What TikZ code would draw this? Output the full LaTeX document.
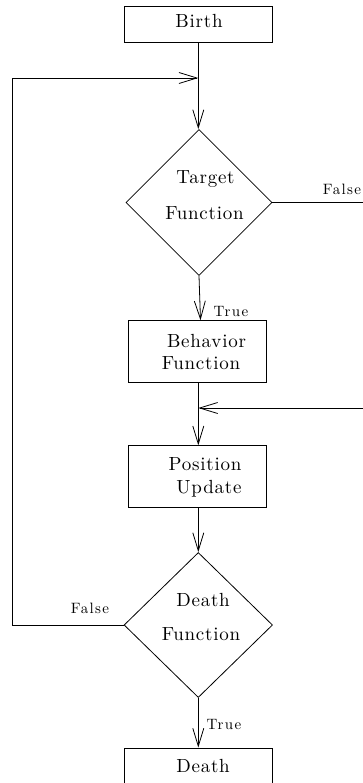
\documentclass[tikz,border=0pt]{standalone}
\usepackage{fontspec}
\usetikzlibrary{shapes.geometric,arrows.meta}
\newfontfamily\cmmain{lmroman10-regular.otf}[LetterSpace=4]
\newfontfamily\cmlbl{lmroman10-regular.otf}[LetterSpace=9]
\newcommand\mainfs{\cmmain\fontsize{19}{21}\selectfont}
\newcommand\lblfs{\cmlbl\fontsize{15}{17}\selectfont}
\tikzset{
  boxnode/.style={draw, line width=0.8pt, rectangle, inner sep=0pt},
  decnode/.style={draw, line width=0.8pt, diamond, inner sep=0pt, minimum width=146pt, minimum height=146pt},
  txt/.style={anchor=base, inner sep=0pt, font=\mainfs},
  lbl/.style={anchor=base, inner sep=0pt, font=\lblfs},
  conn/.style={line width=0.8pt},
  arr/.style={line width=0.8pt, -{Straight Barb[length=18pt,width=11pt]}}
}
\begin{document}
\begin{tikzpicture}[x=1pt,y=-1pt]
\useasboundingbox (0,0) rectangle (363,783);
\clip (0,0) rectangle (363,783);
% boxes
\node[boxnode, minimum width=148pt, minimum height=35.5pt] (birth) at (198.5,24.3) {};
\node[decnode] (tgt) at (199,202.5) {};
\node[boxnode, minimum width=138pt, minimum height=62pt] (beh) at (197,351.7) {};
\node[boxnode, minimum width=138pt, minimum height=61.5pt] (pos) at (197,476.5) {};
\node[decnode, minimum width=148.5pt, minimum height=145pt] (dfn) at (198.3,625) {};
\node[boxnode, minimum width=148.5pt, minimum height=44pt] (dbox) at (198.3,770) {};
% texts
\node[txt] (t1) at (199,28) {Birth};
\node[txt] (t2) at (205.5,184) {Target};
\node[txt] (t3) at (204.5,220) {Function};
\node[txt] (t4) at (206.5,347) {Behavior};
\node[txt] (t5) at (201,369) {Function};
\node[txt] (t6) at (205,470) {Position};
\node[txt] (t7) at (209,493) {Update};
\node[txt] (t8) at (203,606) {Death};
\node[txt] (t9) at (201,640) {Function};
\node[txt] (t10) at (203,772) {Death};
% labels
\node[lbl] (l1) at (342,195) {False};
\node[lbl] (l2) at (231,316) {True};
\node[lbl] (l3) at (90,613) {False};
\node[lbl] (l4) at (224,729) {True};
% coordinates
\coordinate (j1) at (198.3,78);
\coordinate (j2) at (198.3,408);
\coordinate (c1) at (12,625);
\coordinate (c2) at (12,78);
\coordinate (r1) at (365,202.5);
\coordinate (r2) at (365,408);
% connectors
\draw[arr] (birth.south -| j1) -- (tgt.north -| j1);
\draw[arr] (dfn.west) -- (c1) -- (c2) -- (j1);
\draw[conn] (tgt.east) -- (r1);
\draw[arr] (tgt.south) -- ([xshift=3.5pt]beh.north);
\draw[arr] (beh.south -| j2) -- (pos.north -| j2);
\draw[arr] (r2) -- (j2);
\draw[arr] (pos.south -| j2) -- (dfn.north);
\draw[arr] (dfn.south) -- (dbox.north);
\end{tikzpicture}
\end{document}
